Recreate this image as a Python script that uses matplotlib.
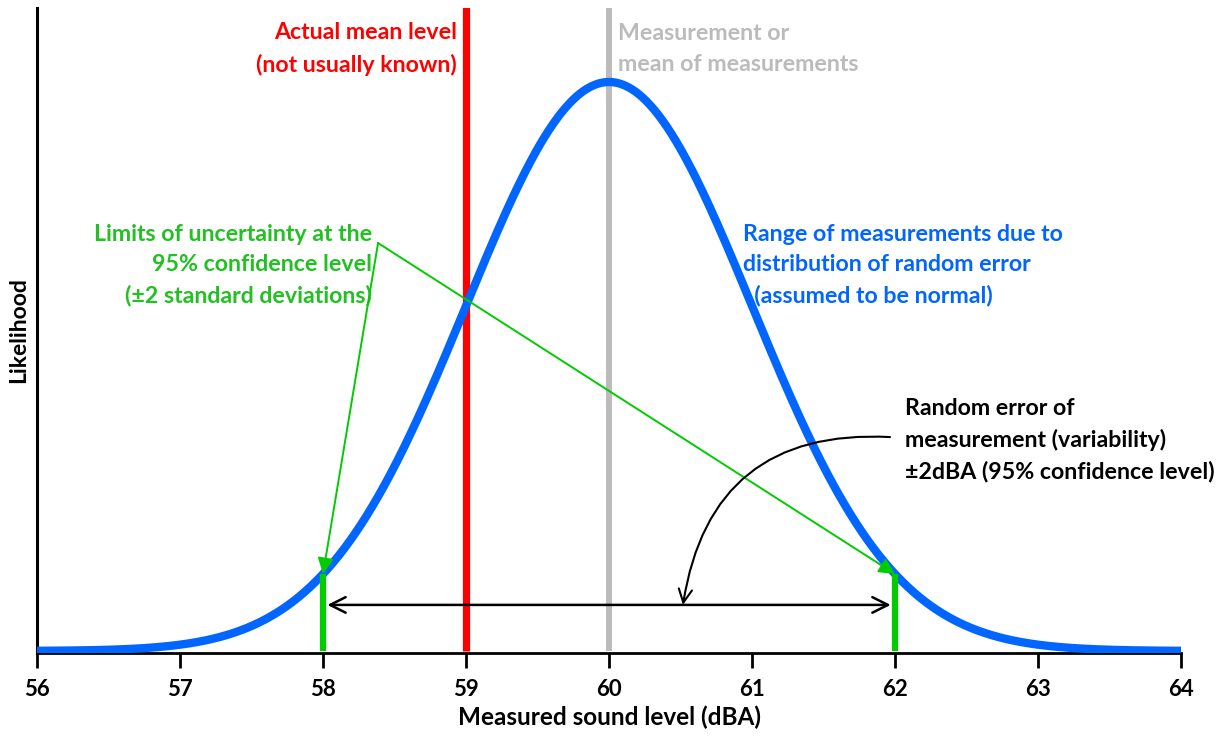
import numpy as np
import matplotlib
matplotlib.use("Agg")
import matplotlib.pyplot as plt

plt.rcParams['font.family'] = ['Lato', 'DejaVu Sans']
plt.rcParams['font.weight'] = 'bold'

# Data
mean_level = 60.0          # measurement / mean of measurements
sd = 1.0                   # standard deviation (dBA)
actual_mean = 59.0         # actual mean level
lower_limit = 58.0         # mean - 2 sd
upper_limit = 62.0         # mean + 2 sd
x_ticks = [56, 57, 58, 59, 60, 61, 62, 63, 64]

x = np.linspace(56, 64, 801)
y = np.exp(-0.5 * ((x - mean_level) / sd) ** 2)  # normal curve, peak = 1

BLUE = '#0066FF'
RED = '#FF0000'
GRAY = '#BBBBBB'
GREEN = '#00CC00'
TGREEN = '#22C022'

fig = plt.figure(figsize=(12.28, 7.38), dpi=100)
ax = fig.add_axes([37/1228, 1-653/738, (1181-37)/1228, (653-8)/738])
ax.set_xlim(56, 64)
ax.set_ylim(-2/569, 643/569)

# vertical lines
ax.plot([actual_mean, actual_mean], [0, 2], color=RED, lw=5.2, solid_capstyle='butt', zorder=2)
ax.plot([mean_level, mean_level], [0, 2], color=GRAY, lw=4.3, solid_capstyle='butt', zorder=2)

# curve
ax.plot(x, y, color=BLUE, lw=6, zorder=3, solid_capstyle='butt')

# limits
for lim in (lower_limit, upper_limit):
    yl = np.exp(-0.5 * ((lim - mean_level) / sd) ** 2)
    ax.plot([lim, lim], [0, yl], color=GREEN, lw=4.5, solid_capstyle='butt', zorder=4)
    ax.annotate('', xy=(lim, yl), xytext=(58.385, 0.717),
                arrowprops=dict(arrowstyle='-|>', color=GREEN, lw=1.4,
                                mutation_scale=24, shrinkA=0, shrinkB=0), zorder=5)

# double-headed arrow
ax.annotate('', xy=(lower_limit + 0.03, 0.081), xytext=(upper_limit - 0.03, 0.081),
            arrowprops=dict(arrowstyle='<->', color='black', lw=1.8,
                            mutation_scale=28, shrinkA=0, shrinkB=0), zorder=5)
# curved arrow
ax.annotate('', xy=(60.517, 0.081), xytext=(61.965, 0.376),
            arrowprops=dict(arrowstyle='->', color='black', lw=1.5,
                            mutation_scale=24, shrinkA=0, shrinkB=0,
                            connectionstyle='arc3,rad=0.45'), zorder=5)

fs = 16.7
ls = 1.55
ax.text(58.937, 1.058, 'Actual mean level\n(not usually known)', color=RED, fontsize=fs,
        ha='right', va='center', multialignment='right', linespacing=ls)
ax.text(60.063, 1.058, 'Measurement or\nmean of measurements', color=GRAY, fontsize=fs,
        ha='left', va='center', multialignment='left', linespacing=ls)
ax.text(58.343, 0.678, 'Limits of uncertainty at the\n95% confidence level\n(±2 standard deviations)',
        color=TGREEN, fontsize=fs, ha='right', va='center', multialignment='right', linespacing=ls)
ax.text(60.937, 0.678, 'Range of measurements due to\ndistribution of random error\n  (assumed to be normal)',
        color=BLUE, fontsize=fs, ha='left', va='center', multialignment='left', linespacing=ls)
ax.text(62.07, 0.371, 'Random error of\nmeasurement (variability)\n±2dBA (95% confidence level)',
        color='black', fontsize=fs, ha='left', va='center', multialignment='left', linespacing=ls)

# axes styling
for s in ('top', 'right'):
    ax.spines[s].set_visible(False)
ax.spines['left'].set_linewidth(2.2)
ax.spines['bottom'].set_linewidth(2)
ax.set_yticks([])
ax.set_xticks(x_ticks)
ax.tick_params(axis='x', direction='out', length=11, width=2, pad=8, labelsize=16)
ax.set_xlabel('Measured sound level (dBA)', fontsize=17.5, fontweight='bold', labelpad=4)
ax.set_ylabel('Likelihood', fontsize=16.5, fontweight='bold', labelpad=6)

fig.savefig('out.png', dpi=100)
